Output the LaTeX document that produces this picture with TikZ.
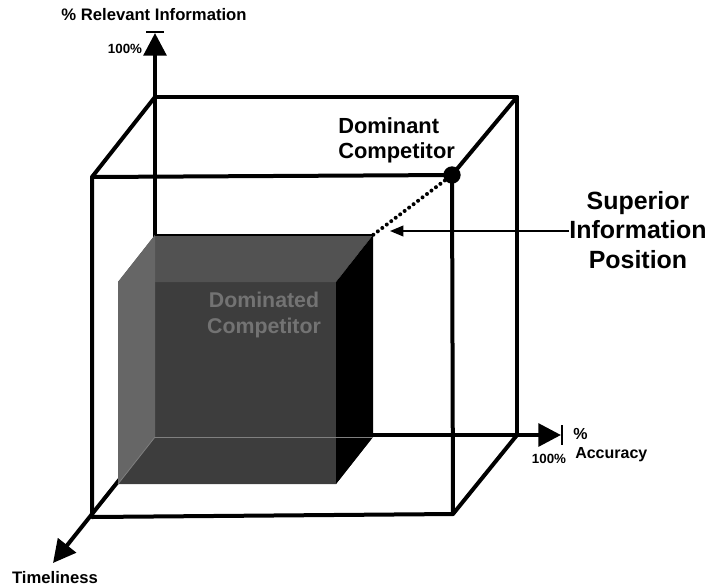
\documentclass[tikz,border=0pt]{standalone}
\usepackage{fontspec}
\setmainfont{Liberation Sans}
\usetikzlibrary{arrows.meta}
\begin{document}
\begin{tikzpicture}[x=0.75pt,y=-0.75pt,
  edge/.style={line width=3pt, line cap=round, line join=round},
  axis/.style={line width=3pt, -{Triangle[length=17pt,width=17pt]}},
  tick/.style={line width=1.1pt},
  lbl/.style={font=\bfseries, inner sep=0pt},
  faceA/.style={fill=black!76},
  faceB/.style={fill=black!68},
  faceC/.style={fill=black!60},
  faceD/.style={fill=black}]
\useasboundingbox (0,0) rectangle (711,587);
% outer cube corners
\coordinate (O) at (155,435);
\coordinate (BTL) at (155,97);
\coordinate (BTR) at (517,97);
\coordinate (BBR) at (517,435);
\coordinate (FTL) at (92,177);
\coordinate (FTR) at (452,175);
\coordinate (FBR) at (453,514);
\coordinate (FBL) at (92,517);
% axis ends
\coordinate (Ytip) at (155,33);
\coordinate (Xtip) at (561,435);
\coordinate (Ztip) at (53,563);
% axes
\draw[axis] (O) -- (Ytip);
\draw[axis] (O) -- (Xtip);
\draw[axis] (O) -- (Ztip);
\draw[tick] (146,32) -- (164,32);
\draw[tick] (562,425) -- (562,445);
% outer cube
\draw[edge] (BTL) -- (BTR) -- (BBR);
\draw[edge] (FTL) -- (FTR) -- (FBR) -- (FBL) -- cycle;
\draw[edge] (BTL) -- (FTL);
\draw[edge] (BTR) -- (FTR);
\draw[edge] (BBR) -- (FBR);
% inner cube
\coordinate (iBTL) at (155,235);
\coordinate (iBTR) at (373,235);
\coordinate (iBBR) at (373,437);
\coordinate (iBBL) at (155,437);
\coordinate (iFTL) at (118,282);
\coordinate (iFTR) at (336,282);
\coordinate (iFBR) at (336,484);
\coordinate (iFBL) at (118,484);
\fill[faceA] (iFTL) -- (iFTR) -- (iFBR) -- (iFBL) -- cycle;
\fill[faceB] (iFTL) -- (iBTL) -- (iBTR) -- (iFTR) -- cycle;
\fill[faceC] (iFTL) -- (iBTL) -- (iBBL) -- (iFBL) -- cycle;
\fill[faceA] (iBBL) -- (iBBR) -- (iFBR) -- (iFBL) -- cycle;
\fill[faceD] (iFTR) -- (iBTR) -- (iBBR) -- (iFBR) -- cycle;
\draw[line width=0.8pt] (iBTL) -- (iBTR);
\draw[line width=0.6pt, black!50] (iBBL) -- (iFBL);
\draw[line width=0.6pt, black!50] (iBBL) -- (iBBR);
\node[lbl, font=\bfseries\fontsize{16}{20}\selectfont, text=black!55, align=center] (dominated) at (264,315) {Dominated\\Competitor};
% dominant competitor
\node[circle, fill=black, minimum size=13pt, inner sep=0pt] (dot) at (FTR) {};
\coordinate (innercorner) at (iBTR);
\draw[line width=3pt, dash pattern=on 0.01pt off 4.2pt, line cap=round] (dot) -- (innercorner);
\node[lbl, font=\bfseries\fontsize{16.4}{20}\selectfont, align=left, anchor=north west] (dom) at (338,117) {Dominant\\[-1pt]Competitor};
% superior information position
\node[lbl, font=\bfseries\fontsize{18.7}{22}\selectfont, align=center] (sup) at (638,230) {Superior\\Information\\Position};
\coordinate (arrtip) at (390,231);
\draw[line width=1.2pt, -{Triangle[length=10pt,width=8pt]}] (sup.west |- arrtip) -- (arrtip);
% axis labels
\node[lbl, font=\bfseries\fontsize{12.5}{15}\selectfont] (yl) at (154,15) {\% Relevant Information};
\node[lbl, font=\bfseries\fontsize{10}{12}\selectfont] (y100) at (125,49) {100\%};
\node[lbl, font=\bfseries\fontsize{12}{14}\selectfont, anchor=west] (xp) at (573,434) {\%};
\node[lbl, font=\bfseries\fontsize{12}{14}\selectfont, anchor=west] (xl) at (575,455) {Accuracy};
\node[lbl, font=\bfseries\fontsize{10}{12}\selectfont] (x100) at (549,459) {100\%};
\node[lbl, font=\bfseries\fontsize{12.5}{15}\selectfont] (zl) at (55,578) {Timeliness};
\end{tikzpicture}
\end{document}
